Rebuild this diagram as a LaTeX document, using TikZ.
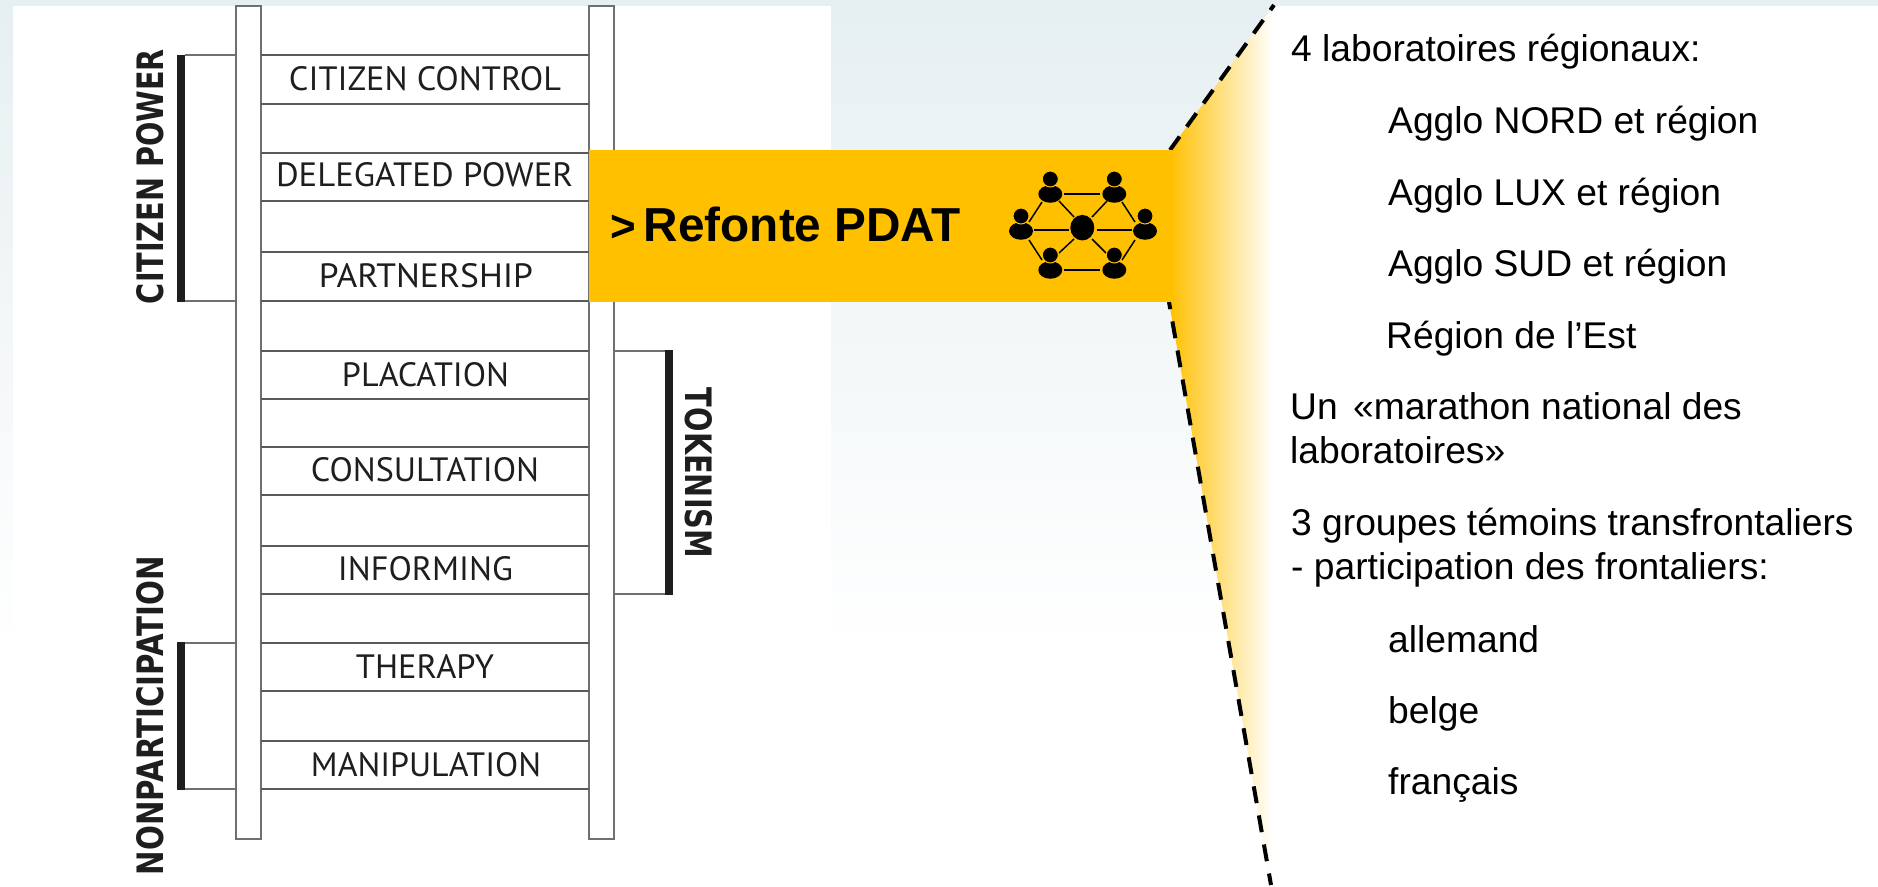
\documentclass[tikz,border=0pt]{standalone}
\usepackage{fontspec}
\usepackage{graphicx}
\setmainfont{Liberation Sans}
\newfontfamily\rungfont{PT Sans}
\newfontfamily\sidefont{DejaVu Sans}
\definecolor{bgtop}{HTML}{E6EFF2}
\definecolor{orangeb}{HTML}{FFC000}
\definecolor{railc}{HTML}{707070}
\definecolor{rungc}{HTML}{5A5A5A}
\definecolor{inkc}{HTML}{1E1E1E}
\usetikzlibrary{shapes.geometric}
\tikzset{
  rail/.style={draw=railc,line width=1.3pt,fill=white},
  rung/.style={draw=rungc,line width=1.8pt},
  rungtext/.style={inner sep=0pt,text=inkc},
  sidetext/.style={inner sep=0pt,text=inkc},
  sidebar/.style={fill=inkc,draw=none},
  sidethin/.style={draw=railc,line width=1.5pt},
  dashup/.style={draw=black,line width=4pt,dash pattern=on 16.5pt off 12.2pt},
  dashdown/.style={draw=black,line width=4pt,dash pattern=on 17pt off 12.5pt,dash phase=9.8pt},
  body/.style={font=\fontsize{37.2}{42}\selectfont,inner sep=0pt,anchor=base west,text=black},
  link/.style={draw=black,line width=1.5pt},
  head/.style={circle,fill=black,draw=orangeb,line width=1pt,inner sep=0pt,minimum size=16pt},
  torso/.style={ellipse,fill=black,draw=none,inner sep=0pt,minimum width=24pt,minimum height=17.5pt},
  hub/.style={ellipse,fill=black,draw=none,inner sep=0pt,minimum width=24pt,minimum height=25.5pt},
}
\newcommand{\rungl}[2]{\resizebox{#1pt}{24pt}{\rungfont #2}}
\newcommand{\sidel}[2]{\resizebox{#1pt}{27pt}{\sidefont\bfseries #2}}
\newcommand{\person}[3]{%
  \node[torso] (#1b) at (#2,#3+15) {};
  \node[head] (#1h) at (#2,#3) {};}
\begin{document}
\begin{tikzpicture}[x=1pt,y=-1pt]
\useasboundingbox (0,0) rectangle (1878,886);
% background
\fill[white] (0,0) rectangle (1878,886);
\shade[top color=bgtop,bottom color=white] (0,0) rectangle (1878,650);
\fill[white] (13,6) rectangle (831,886);
\fill[white] (1272,6) rectangle (1878,886);
% ladder
\foreach \x/\w in {236/25,589/25}{
  \draw[rail] (\x,6) rectangle (\x+\w,839);
}
\foreach \y in {55,104,153,201,252,301,351,399,447,495,546,594,643,691,741,789}{
  \draw[rung] (261,\y) -- (589,\y);
}
\node[rungtext] (r1) at (425,79) {\rungl{272}{CITIZEN CONTROL}};
\node[rungtext] (r2) at (424.5,175) {\rungl{297}{DELEGATED POWER}};
\node[rungtext] (r3) at (426,276) {\rungl{214}{PARTNERSHIP}};
\node[rungtext] (r4) at (425.5,375) {\rungl{167}{PLACATION}};
\node[rungtext] (r5) at (425,470) {\rungl{228}{CONSULTATION}};
\node[rungtext] (r6) at (425.5,569) {\rungl{175}{INFORMING}};
\node[rungtext] (r7) at (425,666) {\rungl{138}{THERAPY}};
\node[rungtext] (r8) at (426,765) {\rungl{230}{MANIPULATION}};
% side brackets
\draw[sidethin] (185,55) -- (236,55);
\draw[sidethin] (185,301) -- (236,301);
\fill[sidebar] (177,55) rectangle (185,302);
\draw[sidethin] (185,643) -- (236,643);
\draw[sidethin] (185,789) -- (236,789);
\fill[sidebar] (177,642) rectangle (185,790);
\draw[sidethin] (614,351) -- (665,351);
\draw[sidethin] (614,594) -- (665,594);
\fill[sidebar] (665,350) rectangle (673,595);
\node[sidetext,rotate=90] (s1) at (150.5,176.5) {\sidel{255}{CITIZEN POWER}};
\node[sidetext,rotate=90] (s2) at (150.5,715.5) {\sidel{319}{NONPARTICIPATION}};
\node[sidetext,rotate=-90] (s3) at (699,473) {\sidel{170}{TOKENISM}};
% fade wedge and dashed lines
\shade[left color=orangeb,right color=white] (1170,150) -- (1273,6) -- (1271,885) -- (1169,302) -- cycle;
\coordinate (wa) at (1170,150);
\coordinate (wb) at (1274,5);
\coordinate (wc) at (1169,302);
\coordinate (wd) at (1271,885);
\draw[dashup] (wa) -- (wb);
\draw[dashdown] (wc) -- (wd);
% banner
\fill[orangeb] (589,150) rectangle (1174,302);
\node[inner sep=0pt,anchor=base west,font=\fontsize{47.7}{50}\selectfont\bfseries] (title) at (610,241)
  {{\fontsize{44}{50}\selectfont >}\hspace{8pt}Refonte PDAT};
% network icon
\draw[link] (1064,194) -- (1100,194);
\draw[link] (1064,270) -- (1100,270);
\draw[link] (1034,230) -- (1069,230);
\draw[link] (1097,230) -- (1132,230);
\draw[link] (1042,202) -- (1029,222);
\draw[link] (1059,201) -- (1074,217);
\draw[link] (1107,201) -- (1092,217);
\draw[link] (1122,202) -- (1135,222);
\draw[link] (1029,240) -- (1042,260);
\draw[link] (1074,239) -- (1059,253);
\draw[link] (1092,239) -- (1106,253);
\draw[link] (1135,240) -- (1122,260);
\node[hub] (hub) at (1082.3,227.7) {};
\person{p1}{1050.3}{179}
\person{p2}{1114.3}{179}
\person{p3}{1021}{216}
\person{p4}{1145}{216}
\person{p5}{1050.3}{255}
\person{p6}{1114.3}{255}
% text column
\node[body] (t1) at (1291,61) {4 laboratoires régionaux:};
\node[body] (t2) at (1388,133) {Agglo NORD et région};
\node[body] (t3) at (1388,205) {Agglo LUX et région};
\node[body] (t4) at (1388,276) {Agglo SUD et région};
\node[body] (t5) at (1386,348) {Région de l’Est};
\node[body] (t6) at (1290,419) {Un\hspace{5pt} «marathon national des};
\node[body] (t7) at (1290,463) {laboratoires»};
\node[body] (t8) at (1291,535) {3 groupes témoins transfrontaliers};
\node[body] (t9) at (1291,579) {- participation des frontaliers:};
\node[body] (t10) at (1388,652) {allemand};
\node[body] (t11) at (1388,723) {belge};
\node[body] (t12) at (1388,794) {français};
\end{tikzpicture}
\end{document}
